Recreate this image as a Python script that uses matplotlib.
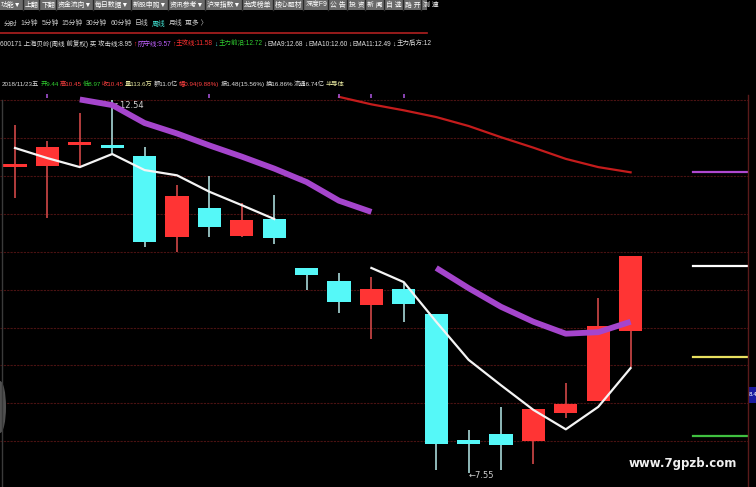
import matplotlib
matplotlib.use("Agg")
import matplotlib.pyplot as plt
from matplotlib.patches import Rectangle, Ellipse
from matplotlib import font_manager
import numpy as np

plt.rcParams['font.family'] = ['Noto Sans CJK SC', 'DejaVu Sans']
installed = {f.name for f in font_manager.fontManager.ttflist}
ui_family = [f for f in ['Liberation Sans Narrow', 'Liberation Sans'] if f in installed] + \
            ['Noto Sans CJK SC', 'DejaVu Sans']

# ---------------- data ----------------
opens  = [11.64, 11.655, 11.936, 11.91, 11.79, 10.70, 11.09, 10.72, 10.945,
          10.29, 10.115, 9.794, 10.01, 9.67, 7.987, 8.07, 7.97, 8.35, 8.51, 9.44]
highs  = [12.20, 11.99, 12.364, 12.54, 11.91, 11.40, 11.52, 11.16, 11.27,
          10.29, 10.22, 10.17, 10.09, 9.67, 8.12, 8.43, 8.40, 8.75, 9.89, 10.45]
lows   = [11.23, 10.96, 11.64, 11.83, 10.57, 10.50, 10.70, 10.70, 10.61,
          9.995, 9.69, 9.34, 9.57, 7.58, 7.55, 7.59, 7.67, 8.28, 8.51, 8.97]
closes = [11.66, 11.91, 11.976, 11.89, 10.64, 11.25, 10.84, 10.93, 10.69,
          10.20, 9.834, 10.01, 9.81, 7.93, 7.93, 7.92, 8.40, 8.47, 9.51, 10.45]

attack_line  = [11.896, 11.76, 11.64, 11.815, 11.60, 11.53, 11.31, 11.13, 10.945,
                None, None, 10.29, 10.10, 9.57, 9.06, 8.72, 8.39, 8.13, 8.43, 8.95]
defense_line = [None, None, 12.545, 12.47, 12.23, 12.09, 11.93, 11.78, 11.62,
                11.44, 11.19, 11.04, None, 10.29, 10.02, 9.77, 9.57, 9.41, 9.43, 9.57]
main_line    = [None] * 10 + [12.58, 12.48, 12.40, 12.31, 12.19, 12.04, 11.90, 11.75, 11.64, 11.57]

signal_idx = [1, 6, 10, 11, 12]
grid_levels = [12.54, 12.03, 11.52, 11.01, 10.50, 9.995, 9.49, 8.99, 8.48, 7.97]

side_levels = [11.568, 10.316, 9.098, 8.04]
side_colors = ['#b048d0', '#ffffff', '#e8e060', '#40c040']

high_label = "12.54"
low_label = "7.55"
price_box_label = "8.4"

menu_items = ["功能▼", "上翻", "下翻", "资金流向▼", "每日数据▼", "新股申购▼", "资讯参考▼",
              "沪深指数▼", "龙虎榜单", "核心题材", "深度F9", "公 告", "投 资", "新 闻",
              "自 选", "路 开", "测 速"]
period_items = ["分时", "1分钟", "5分钟", "15分钟", "30分钟", "60分钟", "日线", "周线", "月线", "更多 〉"]

info_items = [("2018/11/23五", '#d8d8d8'), ("开9.44", '#30d030'), ("高10.45", '#ff4040'),
              ("低8.97", '#30d030'), ("收10.45", '#ff4040'), ("量113.6万", '#e8e8a0'),
              ("额11.0亿", '#e0e0e0'), ("幅0.94(9.88%)", '#ff4040'), ("振1.48(15.56%)", '#e0e0e0'),
              ("换16.86%", '#e0e0e0'), ("流通6.74亿", '#e0e0e0'), ("半导体", '#e8e8a0')]

ind_items = [("600171 上海贝岭(周线 前复权) 买 攻击线:8.95", '#e0e0e0'), ("↑", '#ff3030'),
             ("防守线:9.57", '#c060ff'), ("↑", '#ff3030'),
             ("主攻线:11.58", '#ff3030'), ("↓", '#40e0e0'),
             ("主力前沿:12.72", '#30d030'), ("↓", '#e0e0e0'),
             ("EMA9:12.68", '#e0e0e0'), ("↓", '#e0e0e0'),
             ("EMA10:12.60", '#e0e0e0'), ("↓", '#e0e0e0'),
             ("EMA11:12.49", '#e0e0e0'), ("↓", '#e0e0e0'),
             ("主力后方:12", '#e0e0e0')]

# ---------------- figure ----------------
W, H = 756, 487
fig = plt.figure(figsize=(W / 100, H / 100), dpi=100, facecolor='black')

# main price axes
ax = fig.add_axes([0, 0, 748 / W, (H - 95) / H])
ax.set_facecolor('black')
ax.set_xlim(-15 / 32.4, (748 - 15) / 32.4)
ax.set_ylim(7.358, 12.605)
for s in ax.spines.values():
    s.set_visible(False)
ax.set_xticks([])
ax.set_yticks([])

for g in grid_levels:
    ax.axhline(g, color='#4a1212', lw=0.8, ls=(0, (2, 1)), zorder=0)

red_body, red_wick = '#ff3434', '#d04848'
cyan_body, cyan_wick = '#55f8f8', '#a8d8d8'
bw = 0.72
for i, (o, h, l, c) in enumerate(zip(opens, highs, lows, closes)):
    up = c >= o
    ax.vlines(i, l, h, color=red_wick if up else cyan_wick, lw=1.2, zorder=2)
    bottom = min(o, c)
    height = max(abs(c - o), 0.04)
    ax.add_patch(Rectangle((i - bw / 2, bottom), bw, height,
                           facecolor=red_body if up else cyan_body, edgecolor='none', zorder=3))

x = np.arange(len(opens))
def series(vals):
    return np.array([np.nan if v is None else v for v in vals], dtype=float)

ax.plot(x, series(defense_line), color='#a545cc', lw=4.2, solid_capstyle='butt', zorder=4)
ax.plot(x, series(main_line), color='#c41c1c', lw=1.6, zorder=4)
ax.plot(x, series(attack_line), color='#f4f4f4', lw=1.6, zorder=5)

ax.scatter(signal_idx, [12.585] * len(signal_idx), marker='|', s=12, color='#a050d0',
           linewidths=1.2, zorder=6, clip_on=False)

for lvl, col in zip(side_levels, side_colors):
    ax.axhline(lvl, xmin=693 / 748, xmax=1.0, color=col, lw=1.6, zorder=4)

ax.annotate("↖" + high_label, xy=(3, 12.54), xytext=(1, -1), textcoords='offset points',
            color='#d0d0d0', fontsize=6, ha='left', va='top', family=['DejaVu Sans'])
ax.annotate("←" + low_label, xy=(14, 7.55), xytext=(0, -2), textcoords='offset points',
            color='#d0d0d0', fontsize=6, ha='left', va='center', family=['DejaVu Sans'])

# ---------------- UI overlay ----------------
ui = fig.add_axes([0, 0, 1, 1], facecolor='none')
ui.set_xlim(0, W)
ui.set_ylim(H, 0)
ui.axis('off')
renderer = fig.canvas.get_renderer()


def layout_row(items, x0, x1, y, gap, size=6.5):
    """Place coloured text items one after another so the row spans x0..x1."""
    arts = []
    for t, col in items:
        arts.append(ui.text(0, y, t, color=col, fontsize=size, va='center', ha='left',
                            family=ui_family))
    widths = [a.get_window_extent(renderer).width for a in arts]
    total = sum(widths) + gap * (len(items) - 1)
    scale = min(1.0, (x1 - x0) / total)
    if scale < 1.0:
        for a in arts:
            a.set_fontsize(size * scale)
        widths = [a.get_window_extent(renderer).width for a in arts]
    total = sum(widths) + gap * (len(items) - 1)
    extra = max((x1 - x0 - total) / max(len(items) - 1, 1), 0)
    cx = x0
    pos = []
    for a, w in zip(arts, widths):
        a.set_x(cx)
        pos.append((cx, w))
        cx += w + gap + extra
    return pos


# top menu bar
ui.add_patch(Rectangle((0, 0), 427, 10, facecolor='#6a6a6a', edgecolor='none'))
pos = layout_row([(t, 'white') for t in menu_items], 1, 426, 5.0, 3, size=6.5)
for cx, w in pos[1:]:
    ui.plot([cx - 2, cx - 2], [0, 10], color='#2a2a2a', lw=1)

layout_row([(t, '#40e0d0' if t == "周线" else '#c8c8c8') for t in period_items],
           4, 200, 24, 3, size=6.5)

ui.plot([0, 427], [32.5, 32.5], color='#b02020', lw=1.2)

layout_row(ind_items, 0, 429, 44, 1.0, size=6.5)
layout_row(info_items, 2, 342, 84, 1.0, size=6.5)

# right axis line and price box
ui.plot([748, 748], [95, H], color='#5a1a1a', lw=1)
ui.add_patch(Rectangle((748, 387), 9, 16, facecolor='#1a1aa0', edgecolor='none'))
ui.text(748.5, 395, price_box_label, color='white', fontsize=4, va='center', ha='left',
        family=['DejaVu Sans'])

# left edge ui element
ui.plot([2, 2], [100, H], color='#3a3a3a', lw=1)
ui.add_patch(Ellipse((0, 407), 12, 52, facecolor='#505050', edgecolor='none'))

ui.text(683, 463, "www.7gpzb.com", color='#f0f0f0', fontsize=8.5, fontweight='bold',
        ha='center', va='center', family=['DejaVu Sans'])

fig.savefig("out.png", dpi=100, facecolor='black')
